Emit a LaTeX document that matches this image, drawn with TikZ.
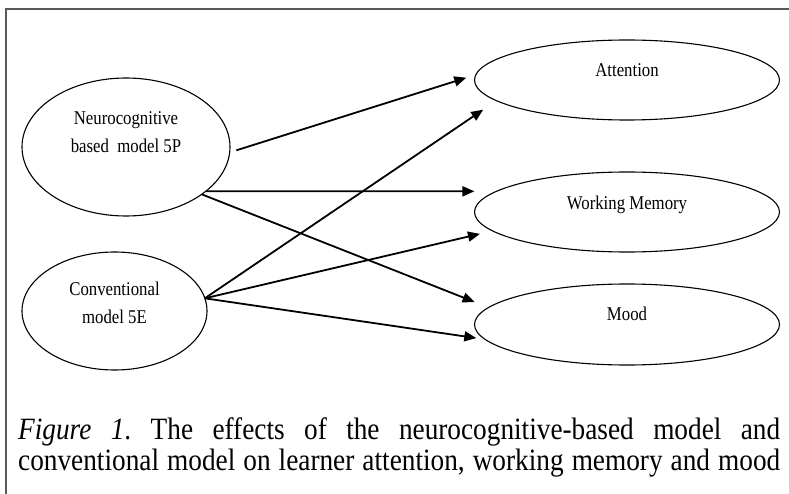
\documentclass[tikz,border=0pt]{standalone}
\usepackage{fontspec}
\setmainfont{Liberation Serif}
\newfontfamily\ovalfont[FakeStretch=0.86]{Liberation Serif}
\newfontfamily\capfont[FakeStretch=0.88]{Liberation Serif}
\usetikzlibrary{arrows.meta, shapes.geometric}
\tikzset{
	oval/.style={draw, ellipse, line width=1.1pt, inner sep=0pt, outer sep=0pt},
	ovaltext/.style={font=\ovalfont\fontsize{19.5}{28}\selectfont, inner sep=0pt, align=center},
	effect/.style={line width=1.8pt, -{Triangle[length=12pt,width=10pt]}},
	captext/.style={font=\capfont\fontsize{31}{31}\selectfont\frenchspacing, inner sep=0pt, anchor=base west}
}

\begin{document}
\begin{tikzpicture}[x=1pt, y=-1pt]
	\useasboundingbox (0,0) rectangle (789,494);
	\draw[color=gray!70!black, line width=1.3pt] (789,9) -- (6,9) -- (6,494);
	\node[oval, minimum width=208pt, minimum height=138pt] (neuro) at (126,147) {};
	\node[oval, minimum width=185pt, minimum height=118pt] (conv) at (114.5,311) {};
	\node[oval, minimum width=305pt, minimum height=80pt] (att) at (627,80) {};
	\node[oval, minimum width=305pt, minimum height=80pt] (wm) at (627,212) {};
	\node[oval, minimum width=305pt, minimum height=81pt] (mood) at (627,324.5) {};
	\node[ovaltext] (neurotext) at ([yshift=14.6pt]neuro.center) {Neurocognitive\\based\ \ model 5P};
	\node[ovaltext] (convtext) at ([yshift=8.6pt]conv.center) {Conventional\\model 5E};
	\node[ovaltext, anchor=base] (atttext) at ([yshift=3pt]att.center) {Attention};
	\node[ovaltext, anchor=base] (wmtext) at ([yshift=2pt]wm.center) {Working Memory};
	\node[ovaltext, anchor=base] (moodtext) at ([yshift=4.5pt]mood.center) {Mood};
	\draw[effect, shorten <=7pt, shorten >=10pt] (neuro.-3) -- (att.178);
	\draw[effect, shorten >=22pt] (neuro.-29) -- (wm.171);
	\draw[effect, shorten >=15pt] (neuro.-32) -- (mood.173.5);
	\draw[effect, shorten >=16pt] (conv.8) -- (att.-171);
	\draw[effect, shorten >=13pt] (conv.8) -- (wm.-172);
	\draw[effect, shorten >=9pt] (conv.8) -- (mood.-174.6);
	\node[captext] (cap1) at (18,439) {\makebox[762pt][s]{\textit{Figure 1}. The effects of the neurocognitive-based model and}};
	\node[captext] (cap2) at (18,470) {\makebox[762pt][s]{conventional model on learner attention, working memory and mood}};
\end{tikzpicture}
\end{document}
